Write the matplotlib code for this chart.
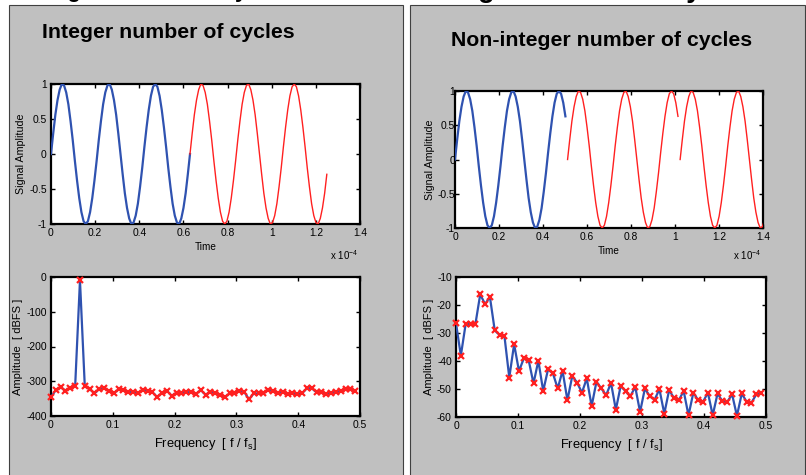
import numpy as np
import matplotlib
matplotlib.use('Agg')
import matplotlib.pyplot as plt
from matplotlib.patches import Rectangle
from matplotlib.ticker import FuncFormatter

plt.rcParams['font.family'] = ['Liberation Sans', 'DejaVu Sans']
plt.rcParams['mathtext.fontset'] = 'custom'
plt.rcParams['mathtext.rm'] = 'Liberation Sans'
plt.rcParams['mathtext.it'] = 'Liberation Sans'
plt.rcParams['axes.unicode_minus'] = False

# ---- data ----
t_step = 0.984e-6          # sample spacing [s]
n_block_int = 64           # samples in one block, integer case
n_block_nonint = 52        # samples in one block, non-integer case

# sampled tone, 3 cycles per 64 samples (65 points incl. end point)
sig_int = [0.00, 0.29, 0.56, 0.77, 0.92, 1.00, 0.98, 0.88, 0.71, 0.47,
           0.20, -0.10, -0.38, -0.63, -0.83, -0.96, -1.00, -0.96, -0.83, -0.63,
           -0.38, -0.10, 0.20, 0.47, 0.71, 0.88, 0.98, 1.00, 0.92, 0.77,
           0.56, 0.29, 0.00, -0.29, -0.56, -0.77, -0.92, -1.00, -0.98, -0.88,
           -0.71, -0.47, -0.20, 0.10, 0.38, 0.63, 0.83, 0.96, 1.00, 0.96,
           0.83, 0.63, 0.38, 0.10, -0.20, -0.47, -0.71, -0.88, -0.98, -1.00,
           -0.92, -0.77, -0.56, -0.29, 0.00]
# same tone cut after 52 samples
sig_nonint = sig_int[:n_block_nonint]

# spectra, 64 bins of a 128 point FFT
spec_int = [-346, -325, -317, -327, -320, -315, -10, -315, -322, -335,
            -322, -320, -328, -335, -323, -325, -331, -330, -335, -325,
            -327, -331, -346, -333, -327, -342, -333, -333, -332, -331,
            -337, -325, -339, -330, -333, -339, -346, -335, -333, -328,
            -330, -352, -335, -335, -335, -325, -328, -333, -330, -338,
            -335, -338, -335, -320, -320, -332, -332, -337, -333, -332,
            -328, -322, -323, -327]
spec_nonint = [-26.5, -38.1, -26.7, -26.9, -26.9, -16.2, -19.7, -17.1, -29.1, -30.7,
               -31.1, -45.9, -34.0, -43.6, -39.1, -39.7, -48.0, -39.9, -50.7, -43.0,
               -44.4, -49.8, -43.5, -54.0, -45.4, -47.7, -51.3, -46.2, -56.1, -47.4,
               -49.8, -52.2, -47.8, -57.4, -48.9, -50.8, -52.6, -49.2, -58.2, -49.8,
               -52.6, -53.8, -50.1, -58.8, -50.4, -53.2, -54.0, -50.7, -59.4, -51.3,
               -54.0, -54.6, -51.3, -59.4, -51.6, -54.4, -54.6, -51.9, -59.6, -51.6,
               -54.6, -54.9, -51.9, -51.6]
n_fft = 128

blue = '#2f52b0'
red = '#ff2020'
W, H = 806, 475

fig = plt.figure(figsize=(W / 100, H / 100), dpi=100)
fig.patch.set_facecolor('white')

def px_rect(x0, y0, x1, y1):
    return [x0 / W, 1 - y1 / H, (x1 - x0) / W, (y1 - y0) / H]

# grey panels
for x0, x1 in [(9, 403), (410, 805)]:
    fig.patches.append(Rectangle((x0 / W, -0.02), (x1 - x0) / W, (H - 5) / H + 0.02,
                                 transform=fig.transFigure, facecolor='#c0c0c0',
                                 edgecolor='#404040', lw=0.8, zorder=-5))

# cut-off header line above the panels (only descenders show)
fig.text(28.5 / W, 1 + 2.5 / H, 'Integer number of cycles', fontsize=16,
         fontweight='bold', ha='left', va='baseline', zorder=-6)
fig.text(366 / W, 1 + 3 / H, 'Non-integer number of cycles', fontsize=19.8,
         fontweight='bold', ha='left', va='baseline', zorder=-6)

fig.text(42 / W, 1 - 33 / H, 'Integer number of cycles', fontsize=15.3,
         fontweight='bold', va='center')
fig.text(451 / W, 1 - 41 / H, 'Non-integer number of cycles', fontsize=15.3,
         fontweight='bold', va='center')

def style(ax, ypad=3):
    ax.set_facecolor('white')
    for s in ax.spines.values():
        s.set_linewidth(1.6)
    ax.tick_params(direction='in', top=True, right=True, length=3, width=1,
                   labelsize=7.4, pad=3)
    ax.tick_params(axis='y', pad=ypad)

tfmt = FuncFormatter(lambda v, p: '%g' % round(v * 1e4, 2))

# ---- time signals ----
for rect, sig, nb, ends, ypad in [
        (px_rect(51, 84, 360, 224), sig_int, n_block_int, [1], 3),
        (px_rect(455, 91, 763, 228), sig_nonint, n_block_nonint, [1, 2], 0)]:
    ax = fig.add_axes(rect)
    n = np.arange(len(sig))
    ax.plot(n * t_step, sig, color=blue, lw=1.6, zorder=3)
    base = sig_int[:nb] if nb == n_block_int else sig_nonint
    m = np.arange(len(base))
    for k in ends:
        ax.plot((m + k * nb) * t_step, base, color=red, lw=1.0, zorder=3)
    ax.set_xlim(0, 1.4e-4)
    ax.set_ylim(-1, 1)
    ax.set_xticks(np.arange(8) * 0.2e-4)
    ax.xaxis.set_major_formatter(tfmt)
    ax.set_yticks([-1, -0.5, 0, 0.5, 1])
    ax.yaxis.set_major_formatter(FuncFormatter(lambda v, p: '%g' % v))
    style(ax, ypad)
    ax.set_ylabel('Signal Amplitude', fontsize=7.7, labelpad=2)
    ax.set_xlabel('Time', fontsize=7.2, labelpad=3)
    x_right = rect[0] + rect[2]
    fig.text(x_right - 2 / W, 1 - 255 / H, r'x 10$^{-4}$', fontsize=7,
             ha='right', va='center')

# ---- spectra ----
freq = np.arange(len(spec_int)) / n_fft
for rect, spec, ylim, yt in [
        (px_rect(51, 277, 360, 416), spec_int, (-400, 0), np.arange(-400, 1, 100)),
        (px_rect(456, 277, 766, 417), spec_nonint, (-60, -10), np.arange(-60, -9, 10))]:
    ax = fig.add_axes(rect)
    ax.plot(freq, spec, color=blue, lw=1.6, zorder=3)
    ax.plot(freq, spec, ls='none', marker='x', ms=3.8, mew=1.6, color=red,
            zorder=4, clip_on=False)
    ax.set_xlim(0, 0.5)
    ax.set_ylim(*ylim)
    ax.set_xticks(np.arange(6) * 0.1)
    ax.xaxis.set_major_formatter(FuncFormatter(lambda v, p: '%g' % round(v, 2)))
    ax.set_yticks(yt)
    style(ax)
    ax.set_xlabel(r'Frequency  [ f / f$_\mathregular{s}$]', fontsize=9.3, labelpad=4)
    ax.set_ylabel('Amplitude  [ dBFS ]', fontsize=8, labelpad=2)

fig.savefig('out.png', dpi=100)
